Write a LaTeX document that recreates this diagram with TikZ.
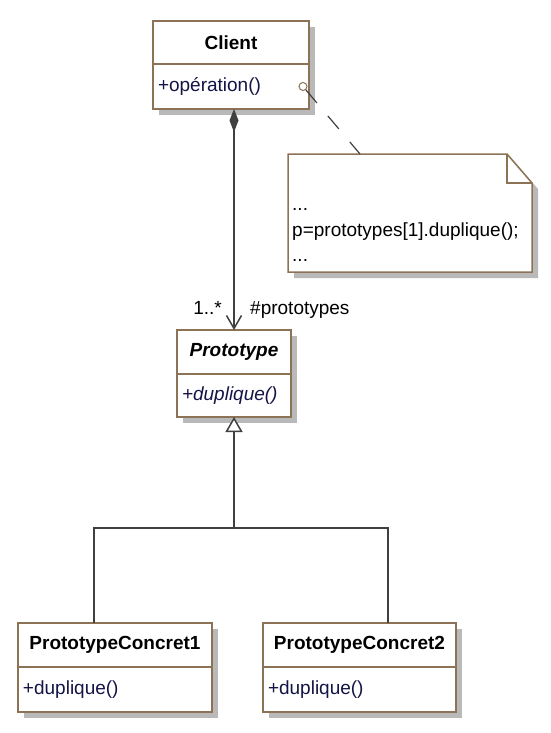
\documentclass[tikz,border=0pt]{standalone}
\usepackage{fontspec}
\setmainfont{Liberation Sans}
\usetikzlibrary{positioning,shadows,arrows.meta}

\definecolor{umlbrown}{RGB}{140,115,85}
\definecolor{umlline}{RGB}{64,64,64}
\definecolor{umlnavy}{RGB}{20,20,70}
\definecolor{umlshadow}{RGB}{185,185,185}
\newcommand{\umlfont}{\fontsize{19}{25.5}\selectfont}

\begin{document}
\begin{tikzpicture}[x=1pt,y=-1pt,
  every node/.style={font=\umlfont},
  boxshadow/.style={drop shadow={shadow xshift=6pt,shadow yshift=-6pt,fill=umlshadow,opacity=1}},
  classname/.style={draw=umlbrown,fill=white,line width=1.5pt,outer sep=0pt,inner sep=0pt,
    anchor=north west,boxshadow,font=\umlfont\bfseries},
  classops/.style={draw=umlbrown,fill=white,line width=1.5pt,outer sep=0pt,inner xsep=5pt,
    inner ysep=0pt,align=left,text=umlnavy,boxshadow},
  link/.style={umlline,line width=1.5pt}]
  \useasboundingbox (0,0) rectangle (550,733);

  % client class
  \node[classname,minimum width=156pt,minimum height=43pt] (client) at (153,21) {Client};
  \node[classops,below=0pt of client,text width=146pt,minimum height=45pt] (clientops) {+opération()};

  % abstract prototype
  \node[classname,minimum width=114pt,minimum height=44pt,font=\umlfont\bfseries\itshape] (proto) at (177,330) {Prototype};
  \node[classops,below=0pt of proto,text width=104pt,minimum height=43pt,font=\umlfont\itshape] (protoops) {+duplique()};

  % concrete prototypes
  \node[classname,minimum width=194pt,minimum height=44pt] (concret1) at (18,623) {PrototypeConcret1};
  \node[classops,below=0pt of concret1,text width=184pt,minimum height=45pt] (concret1ops) {+duplique()};

  \node[classname,minimum width=193pt,minimum height=44pt] (concret2) at (263,623) {PrototypeConcret2};
  \node[classops,below=0pt of concret2,text width=183pt,minimum height=45pt] (concret2ops) {+duplique()};

  % note with folded corner
  \node[anchor=north west,minimum width=244pt,minimum height=118pt,inner sep=0pt,outer sep=0pt] (note) at (288,154) {};
  \filldraw[umlbrown,fill=white,line width=1.5pt,boxshadow]
    (note.north west) -- ([xshift=-25pt]note.north east) -- ([yshift=-29pt]note.north east)
    -- (note.south east) -- (note.south west) -- cycle;
  \draw[umlbrown,line width=1.5pt] ([xshift=-25pt]note.north east) -- ([xshift=-25pt,yshift=-29pt]note.north east)
    -- ([yshift=-29pt]note.north east);
  \node[anchor=south west,align=left,inner sep=0pt] (notetext) at ([xshift=4pt,yshift=10pt]note.south west)
    {...\\p=prototypes[1].duplique();\\...};

  % note link
  \node[circle,draw=umlbrown,fill=white,line width=1pt,inner sep=0pt,minimum size=8pt] (noteanchor)
    at ([xshift=-6pt]clientops.east) {};
  \draw[link,line width=1.2pt,dash pattern=on 17pt off 17pt] (noteanchor) -- ([xshift=72pt]note.north west);

  % composition
  \draw[link,{Diamond[length=23pt,width=9pt]}-{Straight Barb[length=13pt,width=15pt]}]
    (clientops.south -| proto.north) -- (proto.north);
  \node[anchor=base east,inner sep=0pt] (mult) at ([xshift=-12pt,yshift=16pt]proto.north) {1..*};
  \node[anchor=base west,inner sep=0pt] (role) at ([xshift=16pt,yshift=16pt]proto.north) {\#prototypes};

  % inheritance
  \coordinate (fork) at ([yshift=-111pt]protoops.south);
  \draw[link,-{Triangle[fill=white,length=15pt,width=17pt]}] (fork) -- (protoops.south);
  \draw[link] ([xshift=76pt]concret1.north west) |- (fork) -| ([xshift=125pt]concret2.north west);
\end{tikzpicture}
\end{document}
